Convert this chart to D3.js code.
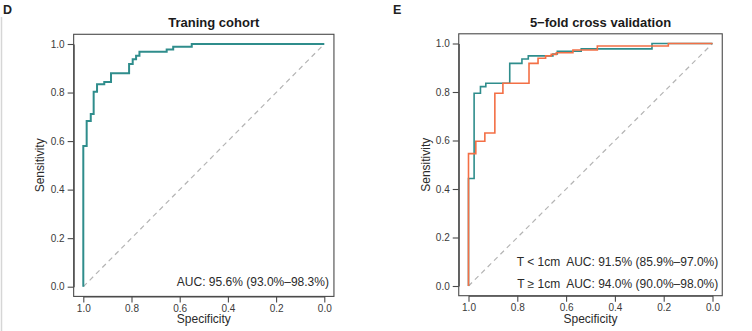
<!DOCTYPE html>
<html>
<head>
<meta charset="utf-8">
<script src="https://cdn.jsdelivr.net/npm/d3@7"></script>
<style>
  html, body { margin: 0; padding: 0; background: #fff; }
  svg { display: block; font-family: "Liberation Sans", Arial, Helvetica, sans-serif; }
</style>
</head>
<body>
<div id="root"></div>
<script>
// ROC coordinates: specificity (x, reversed) and sensitivity (y),
// listed at the top of each vertical step
const trainSpec = [1.0, 1.0, 0.986, 0.969, 0.957, 0.943, 0.913, 0.885, 0.81, 0.795, 0.781, 0.767, 0.654, 0.627, 0.55, 0.0]
const trainSens = [0.0, 0.58, 0.683, 0.712, 0.803, 0.834, 0.843, 0.879, 0.918, 0.937, 0.952, 0.968, 0.977, 0.989, 1.0, 1.0]

const smallSpec = [1.0, 1.0, 0.977, 0.951, 0.929, 0.831, 0.781, 0.755, 0.654, 0.636, 0.538, 0.248, 0.0]
const smallSens = [0.0, 0.443, 0.795, 0.822, 0.836, 0.918, 0.936, 0.949, 0.957, 0.968, 0.978, 1.0, 1.0]

const largeSpec = [1.0, 1.0, 0.970, 0.933, 0.892, 0.859, 0.752, 0.715, 0.684, 0.661, 0.64, 0.572, 0.472, 0.181, 0.0]
const largeSens = [0.0, 0.546, 0.597, 0.631, 0.795, 0.836, 0.918, 0.939, 0.949, 0.955, 0.962, 0.973, 0.99, 1.0, 1.0]

const tickValues = [0, 0.2, 0.4, 0.6, 0.8, 1.0]

const TEAL = "#2f8d8c"
const ORANGE = "#f36f45"

const zip = (xs, ys) => xs.map((x, i) => ({ spec: x, sens: ys[i] }))

const width = 752
const height = 331

const svg = d3.select("#root").append("svg")
  .attr("width", width)
  .attr("height", height)

// faint frame line at the left edge
svg.append("line")
  .attr("x1", 1.5).attr("x2", 1.5)
  .attr("y1", 17).attr("y2", height)
  .attr("stroke", "#d6d6d6")
  .attr("stroke-width", 1.5)

function drawPanel({ letter, letterX, title, xRange, yRange, series, labels, lineWidth, yLabelGap }) {
  const xScale = d3.scaleLinear().domain([1, 0]).range(xRange)
  const yScale = d3.scaleLinear().domain([0, 1]).range(yRange)

  // R-style 4% padding round the data region
  const padX = (xRange[1] - xRange[0]) * 0.04
  const padY = (yRange[0] - yRange[1]) * 0.04
  const box = {
    left: xRange[0] - padX,
    right: xRange[1] + padX,
    top: yRange[1] - padY,
    bottom: yRange[0] + padY,
  }

  const g = svg.append("g")

  g.append("text")
    .attr("x", letterX)
    .attr("y", 14)
    .style("font-size", "12.5px")
    .style("font-weight", "bold")
    .attr("fill", "#222")
    .text(letter)

  g.append("text")
    .attr("x", (box.left + box.right) / 2 + 10)
    .attr("y", 27)
    .attr("text-anchor", "middle")
    .style("font-size", "13px")
    .style("font-weight", "bold")
    .attr("fill", "#1a1a1a")
    .text(title)

  // diagonal reference
  g.append("line")
    .attr("x1", xScale(1)).attr("y1", yScale(0))
    .attr("x2", xScale(0)).attr("y2", yScale(1))
    .attr("stroke", "#b4b4b4")
    .attr("stroke-width", 1.2)
    .attr("stroke-dasharray", "5,4")

  const line = d3.line()
    .x(d => xScale(d.spec))
    .y(d => yScale(d.sens))
    .curve(d3.curveStepAfter)

  series.forEach(s => {
    g.append("path")
      .datum(s.points)
      .attr("d", line)
      .attr("fill", "none")
      .attr("stroke", s.color)
      .attr("stroke-width", lineWidth)
  })

  g.append("rect")
    .attr("x", box.left)
    .attr("y", box.top)
    .attr("width", box.right - box.left)
    .attr("height", box.bottom - box.top)
    .attr("fill", "none")
    .attr("stroke", "#4a4a4a")
    .attr("stroke-width", 1.1)

  const xAxisGenerator = d3.axisBottom(xScale)
    .tickValues(tickValues)
    .tickFormat(d3.format(".1f"))
    .tickSizeInner(6)
    .tickSizeOuter(0)
    .tickPadding(2)

  const yAxisGenerator = d3.axisLeft(yScale)
    .tickValues(tickValues)
    .tickFormat(d3.format(".1f"))
    .tickSizeInner(6)
    .tickSizeOuter(0)
    .tickPadding(3)

  const xAxis = g.append("g")
    .attr("transform", `translate(0, ${box.bottom})`)
    .call(xAxisGenerator)
  const yAxis = g.append("g")
    .attr("transform", `translate(${box.left}, 0)`)
    .call(yAxisGenerator)

  ;[xAxis, yAxis].forEach(ax => {
    ax.select(".domain").attr("stroke", "#4a4a4a").attr("stroke-width", 1.1)
    ax.selectAll(".tick line").attr("stroke", "#4a4a4a").attr("stroke-width", 1.1)
    ax.selectAll(".tick text")
      .attr("fill", "#3a3a3a")
      .style("font-size", "10px")
      .style("font-family", "'Liberation Sans', Arial, sans-serif")
  })

  g.append("text")
    .attr("x", (xRange[0] + xRange[1]) / 2)
    .attr("y", 323)
    .attr("text-anchor", "middle")
    .style("font-size", "12px")
    .attr("fill", "#2a2a2a")
    .text("Specificity")

  g.append("text")
    .attr("transform", `translate(${box.left - yLabelGap}, ${(yRange[0] + yRange[1]) / 2}) rotate(-90)`)
    .attr("text-anchor", "middle")
    .style("font-size", "12px")
    .attr("fill", "#2a2a2a")
    .text("Sensitivity")

  labels.forEach(l => {
    g.append("text")
      .attr("x", box.right - l.dx)
      .attr("y", l.y)
      .attr("text-anchor", "end")
      .style("font-size", "12px")
      .style("white-space", "pre")
      .attr("fill", "#2a2a2a")
      .text(l.text)
  })
}

drawPanel({
  letter: "D",
  letterX: 3,
  title: "Traning cohort",
  xRange: [83.3, 324.3],
  yRange: [286.7, 44],
  lineWidth: 2,
  yLabelGap: 30,
  series: [{ points: zip(trainSpec, trainSens), color: TEAL }],
  labels: [{ text: "AUC: 95.6% (93.0%–98.3%)", y: 286, dx: 5 }],
})

drawPanel({
  letter: "E",
  letterX: 393,
  title: "5−fold cross validation",
  xRange: [468.5, 712.5],
  yRange: [286, 43.5],
  lineWidth: 1.6,
  yLabelGap: 29,
  series: [
    { points: zip(smallSpec, smallSens), color: TEAL },
    { points: zip(largeSpec, largeSens), color: ORANGE },
  ],
  labels: [
    { text: "T < 1cm  AUC: 91.5% (85.9%–97.0%)", y: 266, dx: 4 },
    { text: "T ≥ 1cm  AUC: 94.0% (90.0%–98.0%)", y: 288, dx: 4 },
  ],
})
</script>
</body>
</html>
